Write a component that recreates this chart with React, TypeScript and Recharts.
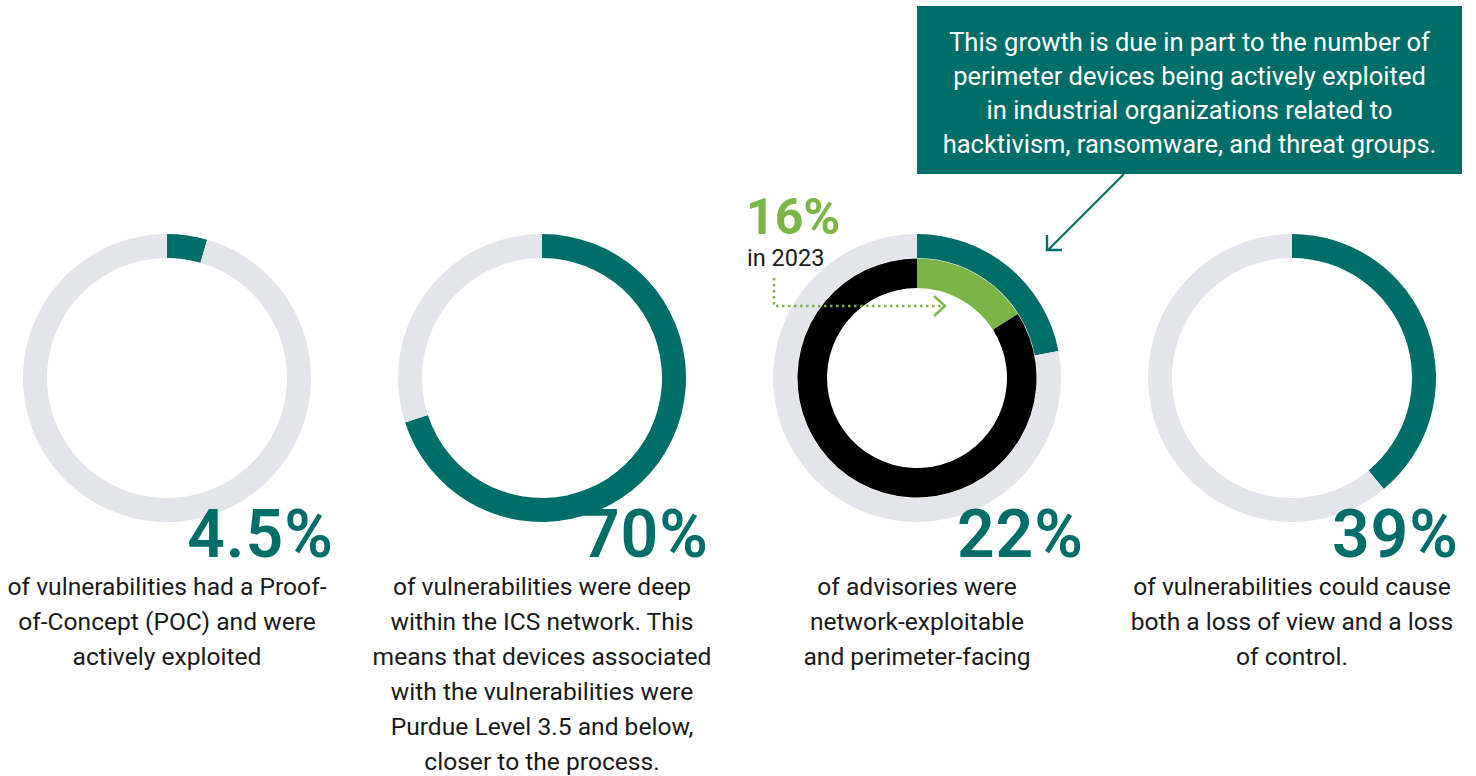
import React from 'react';
import { PieChart, Pie, Cell } from 'recharts';

const statNames = ['POC exploited', 'Deep in ICS', 'Perimeter-facing', 'Loss of view & control'];
const statValues = [4.5, 70, 22, 39];
const statLabels = ['4.5%', '70%', '22%', '39%'];
const descriptions = [
  ['of vulnerabilities had a Proof-', 'of-Concept (POC) and were', 'actively exploited'],
  [
    'of vulnerabilities were deep',
    'within the ICS network. This',
    'means that devices associated',
    'with the vulnerabilities were',
    'Purdue Level 3.5 and below,',
    'closer to the process.',
  ],
  ['of advisories were', 'network-exploitable', 'and perimeter-facing'],
  ['of vulnerabilities could cause', 'both a loss of view and a loss', 'of control.'],
];
const priorValue = 16;
const priorLabel = '16%';
const priorYear = 'in 2023';
const calloutLines = [
  'This growth is due in part to the number of',
  'perimeter devices being actively exploited',
  'in industrial organizations related to',
  'hacktivism, ransomware, and threat groups.',
];

const W = 1476;
const H = 776;
const TEAL = '#006E68';
const GRAY = '#E4E5EA';
const GREEN = '#7AB545';
const BLACK = '#000000';
const FONT = "Roboto, 'Open Sans', 'Noto Sans', sans-serif";

const CX0 = 167;
const DX = 375;
const CY = 378;
const R_OUT = 144;
const R_IN = 120;

export default function App() {
  const centers = statValues.map((_, i) => CX0 + i * DX);
  const priorData = [
    { name: '2023', value: priorValue },
    { name: 'rest', value: 100 - priorValue },
  ];
  return (
    <div style={{ position: 'absolute', left: 0, top: 0, width: W, height: H, background: '#fff' }}>
      <PieChart width={W} height={H} margin={{ top: 0, right: 0, bottom: 0, left: 0 }}>
        {statValues.map((v, i) => (
          <Pie
            key={statNames[i]}
            data={[
              { name: statNames[i], value: v },
              { name: 'other', value: 100 - v },
            ]}
            dataKey="value"
            cx={centers[i]}
            cy={CY}
            innerRadius={R_IN}
            outerRadius={R_OUT}
            startAngle={90}
            endAngle={-270}
            stroke="none"
            isAnimationActive={false}
          >
            <Cell fill={TEAL} />
            <Cell fill={GRAY} />
          </Pie>
        ))}
        <Pie
          data={priorData}
          dataKey="value"
          cx={centers[2]}
          cy={CY}
          innerRadius={90}
          outerRadius={119.5}
          startAngle={90}
          endAngle={-270}
          stroke="none"
          isAnimationActive={false}
        >
          <Cell fill={GREEN} />
          <Cell fill={BLACK} />
        </Pie>
      </PieChart>
      <svg
        width={W}
        height={H}
        style={{ position: 'absolute', left: 0, top: 0, pointerEvents: 'none' }}
        fontFamily={FONT}
      >
        {statLabels.map((l, i) => (
          <text
            key={l}
            x={centers[i] + 167}
            y={557}
            textAnchor="end"
            fontSize={66}
            fontWeight={600}
            fill={TEAL}
            letterSpacing={1}
          >
            {l}
          </text>
        ))}
        {descriptions.map((lines, i) =>
          lines.map((line, j) => (
            <text
              key={i + '-' + j}
              x={centers[i]}
              y={595 + j * 35}
              textAnchor="middle"
              fontSize={24.6}
              fill="#1a1a1a"
            >
              {line}
            </text>
          ))
        )}
        {/* callout */}
        <rect x={917} y={6} width={545} height={168} fill={TEAL} />
        {calloutLines.map((line, j) => (
          <text
            key={'c' + j}
            x={1189.5}
            y={51 + j * 34}
            textAnchor="middle"
            fontSize={25.5}
            fill="#ffffff"
          >
            {line}
          </text>
        ))}
        <line x1={1124} y1={174} x2={1048} y2={250} stroke={TEAL} strokeWidth={2.2} />
        <polyline
          points="1047,235 1047,250 1062,250"
          fill="none"
          stroke={TEAL}
          strokeWidth={2.4}
        />
        {/* 2023 annotation */}
        <text x={746} y={234} fontSize={50} fontWeight={700} fill={GREEN}>
          {priorLabel}
        </text>
        <text x={747} y={266} fontSize={23.5} fill="#1a1a1a">
          {priorYear}
        </text>
        <polyline
          points="774,278 774,306 943,306"
          fill="none"
          stroke={GREEN}
          strokeWidth={2.5}
          strokeDasharray="2.5 3.5"
        />
        <polyline
          points="934,296 945,306 934,316"
          fill="none"
          stroke={GREEN}
          strokeWidth={2.4}
        />
      </svg>
    </div>
  );
}
